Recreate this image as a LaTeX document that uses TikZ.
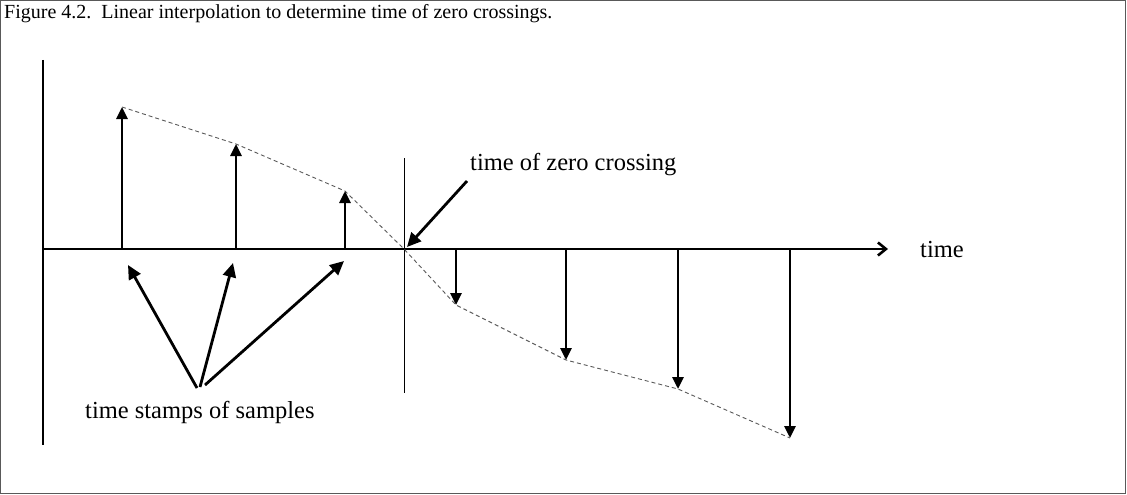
\documentclass[tikz,border=0pt]{standalone}
\usepackage{fontspec}
\setmainfont{Liberation Serif}
\usetikzlibrary{arrows.meta}
\begin{document}
\begin{tikzpicture}[x=1pt,y=-1pt,
  lbl/.style={inner sep=0pt,font=\fontsize{20}{24}\selectfont},
  biglbl/.style={inner sep=0pt,font=\fontsize{24.5}{29}\selectfont},
  stem/.style={line width=2.8pt,-{Triangle[width=11pt,length=12pt]}},
  pointer/.style={line width=2.8pt,-{Triangle[width=13pt,length=14pt]}},
  interp/.style={dashed,dash pattern=on 4pt off 3pt,line width=0.9pt,gray!70!black},
  axis/.style={line width=2.2pt}]
\useasboundingbox (0,0) rectangle (1127,495);
\draw[line width=1pt,gray!70!black] (0.5,0.5) rectangle (1125.5,493.5);
\node[lbl,anchor=base west] (cap) at (4,19) {Figure 4.2.\ \ Linear interpolation to determine time of zero crossings.};
% axes
\coordinate (ytop) at (43,60);
\coordinate (ybot) at (43,445);
\coordinate (x0) at (43,249);
\coordinate (xend) at (888,249);
\draw[axis] (ytop) -- (ybot);
\draw[axis,-{Straight Barb[length=8pt,width=13pt,line width=2.6pt]}] (x0) -- (xend);
\node[biglbl,anchor=base west] (tlab) at (920,257) {time};
% zero crossing line
\coordinate (zc) at (404,249);
\draw[line width=1pt] (404,158) -- (404,393);
% samples
\foreach \n/\x/\y in {a/122/107,b/236/144,c/345/191,d/456/305,e/566/360,f/678/389,g/790/438}{
  \coordinate (b\n) at (\x,249);
  \coordinate (t\n) at (\x,\y);
}
\draw[interp] (ta) -- (tb) -- (tc) -- (zc) -- (td) -- (te) -- (tf) -- (tg);
\foreach \n in {a,b,c,d,e,f,g}{\draw[stem] (b\n) -- (t\n);}
% labels with pointers
\node[biglbl,anchor=base west] (zlab) at (470,170) {time of zero crossing};
\coordinate (zs) at (467,181);
\draw[pointer] (zs) -- (407,247);
\node[biglbl,anchor=base west] (slab) at (85,418) {time stamps of samples};
\coordinate (s1) at (197,388);
\coordinate (s2) at (200,387);
\coordinate (s3) at (205,385);
\draw[pointer] (s1) -- (128,265);
\draw[pointer] (s2) -- (233,263);
\draw[pointer] (s3) -- (344,261);
\end{tikzpicture}
\end{document}
